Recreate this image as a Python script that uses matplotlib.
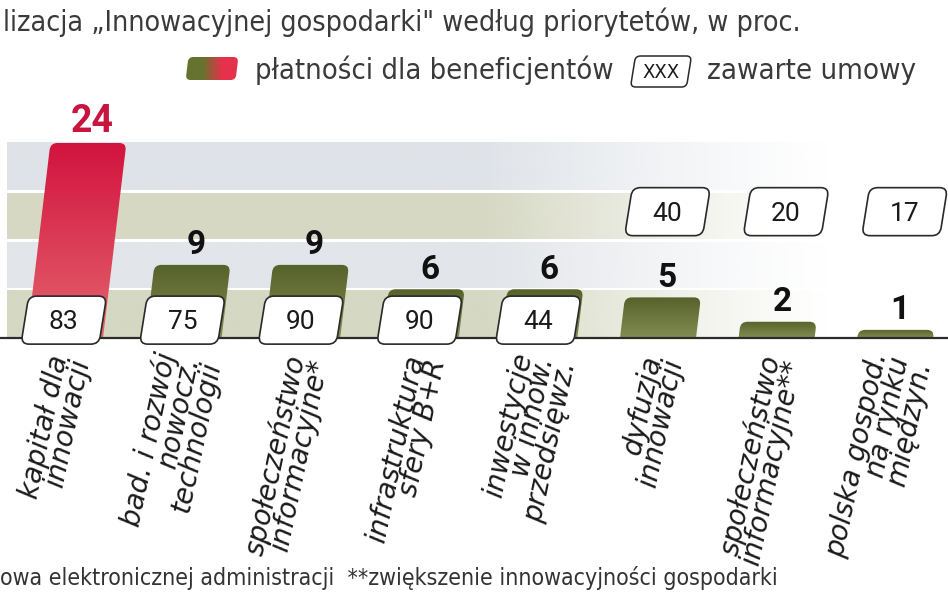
import numpy as np
import matplotlib
matplotlib.use("Agg")
import matplotlib.pyplot as plt
from matplotlib import font_manager
from matplotlib.font_manager import FontProperties
from matplotlib.patches import FancyBboxPatch
from matplotlib.transforms import Affine2D
from matplotlib.colors import to_rgb

# data
categories = ["kapitał dla\ninnowacji",
              "bad. i rozwój\nnowocz.\ntechnologii",
              "społeczeństwo\ninformacyjne*",
              "infrastruktura\nsfery B+R",
              "inwestycje\nw innow.\nprzedsięwz.",
              "dyfuzja\ninnowacji",
              "społeczeństwo\ninformacyjne**",
              "polska gospod.\nna rynku\nmiędzyn."]
payments = [24, 9, 9, 6, 6, 5, 2, 1]      # płatności dla beneficjentów
contracts = [83, 75, 90, 90, 44, 40, 20, 17]  # zawarte umowy

title = "lizacja „Innowacyjnej gospodarki\" według priorytetów, w proc."
legend_bar = "płatności dla beneficjentów"
legend_box = "zawarte umowy"
footnote = "owa elektronicznej administracji  **zwiększenie innowacyjności gospodarki"


def narrow_font():
    # a condensed face if there is one, else Roboto
    fl = font_manager.fontManager.ttflist
    for f in fl:
        if f.name == "Liberation Sans Narrow" and f.style == "normal" and f.weight in (400, "normal", "regular"):
            return FontProperties(fname=f.fname)
    for f in fl:
        if f.fname.endswith("DejaVuSansCondensed.ttf"):
            return FontProperties(fname=f.fname)
    return FontProperties(family="Roboto")


NARROW = narrow_font()
NUM = "Roboto"

W, H = 948, 593
fig = plt.figure(figsize=(W / 100, H / 100), dpi=100)
ax = fig.add_axes([0, 0, 1, 1])
ax.axis("off")

# scale: one category = 118.6 px, one percent point = 8.125 px, baseline 338 px from top
PX_X, PX_Y = 118.6, 8.125
x0 = -65 / PX_X
xlim = (x0, x0 + W / PX_X)
ylim = (-(H - 338) / PX_Y, 338 / PX_Y)

# background bands, fading out to the right
band_cols = ["#d5d8c2", "#e2e5e9", "#d6d8c4", "#dfe3e8"]
band_edges = np.arange(0, 25, 6)
xs = np.linspace(0, W, 300)
fade = np.clip((830 - xs) / (830 - 480), 0, 1) ** 1.2
gap = 1.6 / PX_Y
for k, c in enumerate(band_cols):
    lo = band_edges[k] + (gap if k > 0 else 0)
    hi = band_edges[k + 1] - (gap if k < 3 else 0)
    img = np.zeros((1, len(xs), 4))
    img[..., :3] = to_rgb(c)
    img[..., 3] = fade
    ax.imshow(img, extent=[x0 + 7 / PX_X, xlim[1], lo, hi], aspect="auto",
              interpolation="bilinear", zorder=0)

# bars: slanted, rounded on top, vertical gradient
bar_w = 76 / PX_X
bar_slope = 0.12 * PX_Y / PX_X
red_top, red_bot = to_rgb("#d2143e"), to_rgb("#e4636e")
grn_top, grn_bot = to_rgb("#57612a"), to_rgb("#828d52")
grad = np.linspace(0, 1, 80)[:, None, None]
for i, v in enumerate(payments):
    tr = Affine2D().translate(-i, 0).skew(np.arctan(bar_slope), 0).translate(i, 0) + ax.transData
    pad = 7 / PX_Y
    patch = FancyBboxPatch((i - bar_w / 2, -pad), bar_w, v + pad,
                           boxstyle=f"round,pad=0,rounding_size={7 / PX_X}",
                           mutation_aspect=PX_X / PX_Y, transform=tr,
                           facecolor="none", edgecolor="none")
    ax.add_patch(patch)
    big = v == max(payments)
    top, bot = (red_top, red_bot) if big else (grn_top, grn_bot)
    img = np.array(top)[None, None, :] + (np.array(bot) - np.array(top))[None, None, :] * grad
    im = ax.imshow(img, extent=[i - bar_w / 2 - 0.05, i + bar_w / 2 + bar_slope * v + 0.05, 0, v],
                   aspect="auto", interpolation="bilinear", zorder=2)
    im.set_clip_path(patch)
    ax.text(i + bar_slope * (v + 1.3) + 0.02, v + 1.3, str(v), ha="center", va="baseline",
            fontsize=27 if big else 24, fontweight="bold", family=NUM,
            color="#c8153f" if big else "#111111", zorder=5)

ax.axhline(0, color="#2b2b2b", lw=1.6, zorder=3)

# contract boxes
box_row = [0, 0, 0, 0, 0, 1, 1, 1]   # lower row / upper row
box_w, box_h = 78 / PX_X, 48 / PX_Y
box_slope = 0.16 * PX_Y / PX_X
for i, c in enumerate(contracts):
    cy = 15.55 if box_row[i] else 2.2
    cx = i + (0.08 if box_row[i] else -0.01)
    tr = Affine2D().translate(-cx, -cy).skew(np.arctan(box_slope), 0).translate(cx, cy) + ax.transData
    ax.add_patch(FancyBboxPatch((cx - box_w / 2, cy - box_h / 2), box_w, box_h,
                                boxstyle=f"round,pad=0,rounding_size={8 / PX_X}",
                                mutation_aspect=PX_X / PX_Y, transform=tr,
                                facecolor="white", edgecolor="#2a2a2a", lw=1.2, zorder=4))
    ax.text(cx, cy - 9 / PX_Y, str(c), ha="center", va="baseline", fontsize=19,
            family=NUM, color="#1a1a1a", zorder=5)

# category labels under the baseline
for i, lab in enumerate(categories):
    ax.text(i + 0.05, -2.4, lab, rotation=78, rotation_mode="anchor", ha="right",
            va="center", multialignment="right", fontsize=20, fontstyle="italic",
            family="DejaVu Sans", linespacing=0.74, color="#1a1a1a", zorder=5)

ax.set_xlim(*xlim)
ax.set_ylim(*ylim)

# overlay in pixel units for title, legend, footnote
ov = fig.add_axes([0, 0, 1, 1], zorder=10)
ov.patch.set_alpha(0)
ov.axis("off")
renderer = fig.canvas.get_renderer()


def fit_text(x, y, s, width, **kw):
    t = ov.text(x, y, s, fontproperties=NARROW, va="baseline", **kw)
    t.set_fontsize(20)
    ov.set_xlim(0, W)
    ov.set_ylim(H, 0)
    bb = t.get_window_extent(renderer)
    t.set_fontsize(20 * width / bb.width)
    return t


fit_text(3, 31, title, 797, color="#3a3a3a")

sw = np.zeros((1, 60, 3))
t = np.clip((np.linspace(0, 1, 60) - 0.35) / 0.3, 0, 1)[None, :, None]
sw[:] = np.array(to_rgb("#66732f")) * (1 - t) + np.array(to_rgb("#e5324c")) * t
sw_tr = Affine2D().translate(-212, -68.5).skew(np.arctan(-0.12), 0).translate(212, 68.5) + ov.transData
sw_patch = FancyBboxPatch((187, 57), 50, 23, boxstyle="round,pad=0,rounding_size=5",
                          transform=sw_tr, facecolor="none", edgecolor="none")
ov.add_patch(sw_patch)
sim = ov.imshow(sw, extent=[180, 245, 80, 57], aspect="auto", interpolation="bilinear")
sim.set_clip_path(sw_patch)
fit_text(255, 79, legend_bar, 357, color="#3a3a3a")

xb_tr = Affine2D().translate(-661, -71.5).skew(np.arctan(-0.16), 0).translate(661, 71.5) + ov.transData
ov.add_patch(FancyBboxPatch((633, 56), 56, 31, boxstyle="round,pad=0,rounding_size=5",
                            transform=xb_tr, facecolor="white", edgecolor="#2a2a2a", lw=1.1))
ov.text(661, 72, "XXX", fontproperties=NARROW, fontsize=14.5, color="#1a1a1a",
        ha="center", va="center")
fit_text(707, 79, legend_box, 208, color="#3a3a3a")

fit_text(0, 585, footnote, 775, color="#333333")

ov.set_xlim(0, W)
ov.set_ylim(H, 0)

fig.savefig("out.png", dpi=100)
